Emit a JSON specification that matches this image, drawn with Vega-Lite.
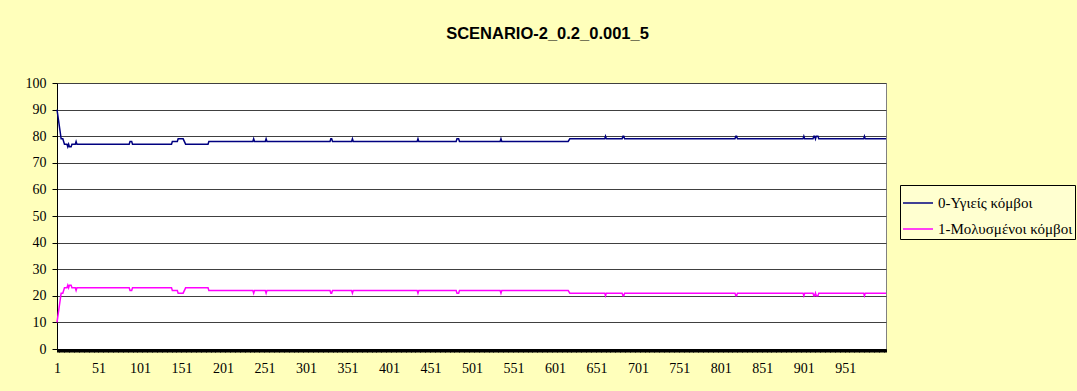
{
  "$schema": "https://vega.github.io/schema/vega-lite/v6.json",
  "width": 829,
  "height": 266,
  "autosize": {"type": "none"},
  "padding": {"left": 57, "top": 83, "right": 191, "bottom": 42},
  "background": "#FFFFBB",
  "title": {
    "text": "SCENARIO-2_0.2_0.001_5",
    "font": "Liberation Sans",
    "fontSize": 16.5,
    "fontWeight": "bold",
    "color": "#000000",
    "anchor": "middle",
    "frame": "group",
    "dx": 76,
    "offset": 34
  },
  "data": {
    "values": [
      {"t": 1, "h": 90, "i": 10},
      {"t": 6, "h": 79, "i": 21},
      {"t": 8, "h": 79, "i": 21},
      {"t": 10, "h": 77, "i": 23},
      {"t": 13, "h": 77, "i": 23},
      {"t": 14, "h": 76, "i": 24},
      {"t": 15, "h": 77, "i": 23},
      {"t": 16, "h": 76, "i": 24},
      {"t": 18, "h": 76, "i": 24},
      {"t": 19, "h": 77, "i": 23},
      {"t": 23, "h": 77, "i": 23},
      {"t": 24, "h": 78, "i": 22},
      {"t": 25, "h": 77, "i": 23},
      {"t": 88, "h": 77, "i": 23},
      {"t": 89, "h": 78, "i": 22},
      {"t": 91, "h": 78, "i": 22},
      {"t": 92, "h": 77, "i": 23},
      {"t": 139, "h": 77, "i": 23},
      {"t": 140, "h": 78, "i": 22},
      {"t": 146, "h": 78, "i": 22},
      {"t": 147, "h": 79, "i": 21},
      {"t": 153, "h": 79, "i": 21},
      {"t": 156, "h": 77, "i": 23},
      {"t": 183, "h": 77, "i": 23},
      {"t": 184, "h": 78, "i": 22},
      {"t": 237, "h": 78, "i": 22},
      {"t": 238, "h": 79, "i": 21},
      {"t": 239, "h": 78, "i": 22},
      {"t": 252, "h": 78, "i": 22},
      {"t": 253, "h": 79, "i": 21},
      {"t": 254, "h": 78, "i": 22},
      {"t": 330, "h": 78, "i": 22},
      {"t": 331, "h": 79, "i": 21},
      {"t": 332, "h": 79, "i": 21},
      {"t": 333, "h": 78, "i": 22},
      {"t": 356, "h": 78, "i": 22},
      {"t": 357, "h": 79, "i": 21},
      {"t": 358, "h": 78, "i": 22},
      {"t": 435, "h": 78, "i": 22},
      {"t": 436, "h": 79, "i": 21},
      {"t": 437, "h": 78, "i": 22},
      {"t": 482, "h": 78, "i": 22},
      {"t": 483, "h": 79, "i": 21},
      {"t": 485, "h": 79, "i": 21},
      {"t": 486, "h": 78, "i": 22},
      {"t": 535, "h": 78, "i": 22},
      {"t": 536, "h": 79, "i": 21},
      {"t": 537, "h": 78, "i": 22},
      {"t": 617, "h": 78, "i": 22},
      {"t": 619, "h": 79, "i": 21},
      {"t": 661, "h": 79, "i": 21},
      {"t": 662, "h": 80, "i": 20},
      {"t": 663, "h": 79, "i": 21},
      {"t": 682, "h": 79, "i": 21},
      {"t": 683, "h": 80, "i": 20},
      {"t": 684, "h": 80, "i": 20},
      {"t": 685, "h": 79, "i": 21},
      {"t": 818, "h": 79, "i": 21},
      {"t": 819, "h": 80, "i": 20},
      {"t": 820, "h": 80, "i": 20},
      {"t": 821, "h": 79, "i": 21},
      {"t": 900, "h": 79, "i": 21},
      {"t": 901, "h": 80, "i": 20},
      {"t": 902, "h": 79, "i": 21},
      {"t": 912, "h": 79, "i": 21},
      {"t": 913, "h": 80, "i": 20},
      {"t": 914, "h": 80, "i": 20},
      {"t": 915, "h": 79, "i": 21},
      {"t": 916, "h": 80, "i": 20},
      {"t": 918, "h": 80, "i": 20},
      {"t": 919, "h": 79, "i": 21},
      {"t": 973, "h": 79, "i": 21},
      {"t": 974, "h": 80, "i": 20},
      {"t": 975, "h": 79, "i": 21},
      {"t": 1000, "h": 79, "i": 21}
    ]
  },
  "transform": [{"fold": ["h", "i"], "as": ["s", "v"]}],
  "mark": {"type": "line", "strokeWidth": 1.5},
  "encoding": {
    "x": {
      "field": "t",
      "type": "quantitative",
      "scale": {"domain": [1, 1000], "nice": false, "zero": false},
      "axis": {
        "title": null,
        "tickCount": 1000,
        "labelExpr": "(datum.value - 1) % 50 == 0 ? format(datum.value, 'd') : ''",
        "labelOverlap": false,
        "labelFlush": false,
        "labelAngle": 0,
        "labelFont": "Liberation Serif",
        "labelFontSize": 14,
        "labelColor": "#000000",
        "labelPadding": 9,
        "tickColor": "#000000",
        "tickSize": 3,
        "domainColor": "#000000",
        "grid": false
      }
    },
    "y": {
      "field": "v",
      "type": "quantitative",
      "scale": {"domain": [0, 100], "nice": false},
      "axis": {
        "title": null,
        "values": [0, 10, 20, 30, 40, 50, 60, 70, 80, 90, 100],
        "labelFont": "Liberation Serif",
        "labelFontSize": 14,
        "labelColor": "#000000",
        "labelPadding": 6,
        "tickColor": "#000000",
        "tickSize": 5,
        "domainColor": "#000000",
        "gridColor": "#404040",
        "gridOpacity": 1
      }
    },
    "color": {
      "field": "s",
      "type": "nominal",
      "scale": {"domain": ["h", "i"], "range": ["#000080", "#FF00FF"]},
      "legend": {
        "title": null,
        "orient": "none",
        "legendX": 843,
        "legendY": 102,
        "symbolType": "stroke",
        "symbolSize": 900,
        "symbolStrokeWidth": 1.5,
        "labelFont": "Liberation Serif",
        "labelFontSize": 15,
        "labelColor": "#000000",
        "labelLimit": 400,
        "labelOffset": 4,
        "strokeColor": "#000000",
        "fillColor": "#FFFFD0",
        "padding": 2,
        "labelExpr": "datum.value == 'h' ? '0-Υγιείς κόμβοι' : '1-Μολυσμένοι κόμβοι'"
      }
    }
  },
  "config": {"view": {"stroke": "#808080", "fill": "#FFFFFF"}}
}
